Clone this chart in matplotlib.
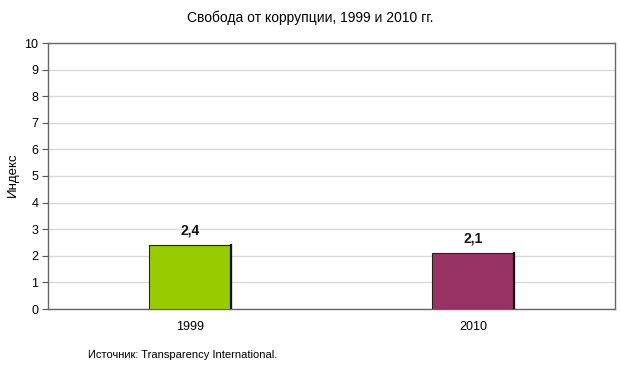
import matplotlib
matplotlib.use("Agg")
import matplotlib.pyplot as plt

plt.rcParams['font.family'] = ['Liberation Sans', 'DejaVu Sans']

categories = ["1999", "2010"]
values = [2.4, 2.1]
labels = ["2,4", "2,1"]
colors = ["#99CC00", "#993366"]
yticks = list(range(0, 11))

fig = plt.figure(figsize=(6.2, 3.87), dpi=100)
ax = fig.add_axes([48/620, 1-309/387, 567/620, 266/387])

x = list(range(len(categories)))
bars = ax.bar(x, values, width=0.29, color=colors, edgecolor="#222222", linewidth=0.8, zorder=3)
for b in bars:
    ax.plot([b.get_x()+b.get_width(), b.get_x()+b.get_width()], [0, b.get_height()],
            color="#111111", linewidth=1.6, zorder=4)
for xi, v, lab in zip(x, values, labels):
    ax.text(xi, v + 0.3, lab, ha="center", va="bottom", fontsize=10, fontweight="bold", color="#111111")

ax.set_xlim(-0.5, 1.5)
ax.set_ylim(0, 10)
ax.set_yticks(yticks)
ax.set_yticklabels([str(t) for t in yticks], fontsize=9)
ax.set_xticks(x)
ax.set_xticklabels(categories, fontsize=9)
ax.tick_params(axis="x", length=0, pad=9)
ax.tick_params(axis="y", length=4, direction="out", color="#555555", pad=3)
ax.yaxis.grid(True, color="#d9d9d9", linewidth=1.0, zorder=0)
ax.set_axisbelow(True)
for s in ax.spines.values():
    s.set_color("#666666")
    s.set_linewidth(1.0)

fig.text(13/620, 1-175/387, "Индекс", rotation=90, ha="center", va="center", fontsize=9.5)
fig.text(0.5, 1-18/387, "Свобода от коррупции, 1999 и 2010 гг.", ha="center", va="center", fontsize=10)
fig.text(88/620, 1-355/387, "Источник: Transparency International.", ha="left", va="center", fontsize=8)

fig.savefig("out.png", dpi=100)
